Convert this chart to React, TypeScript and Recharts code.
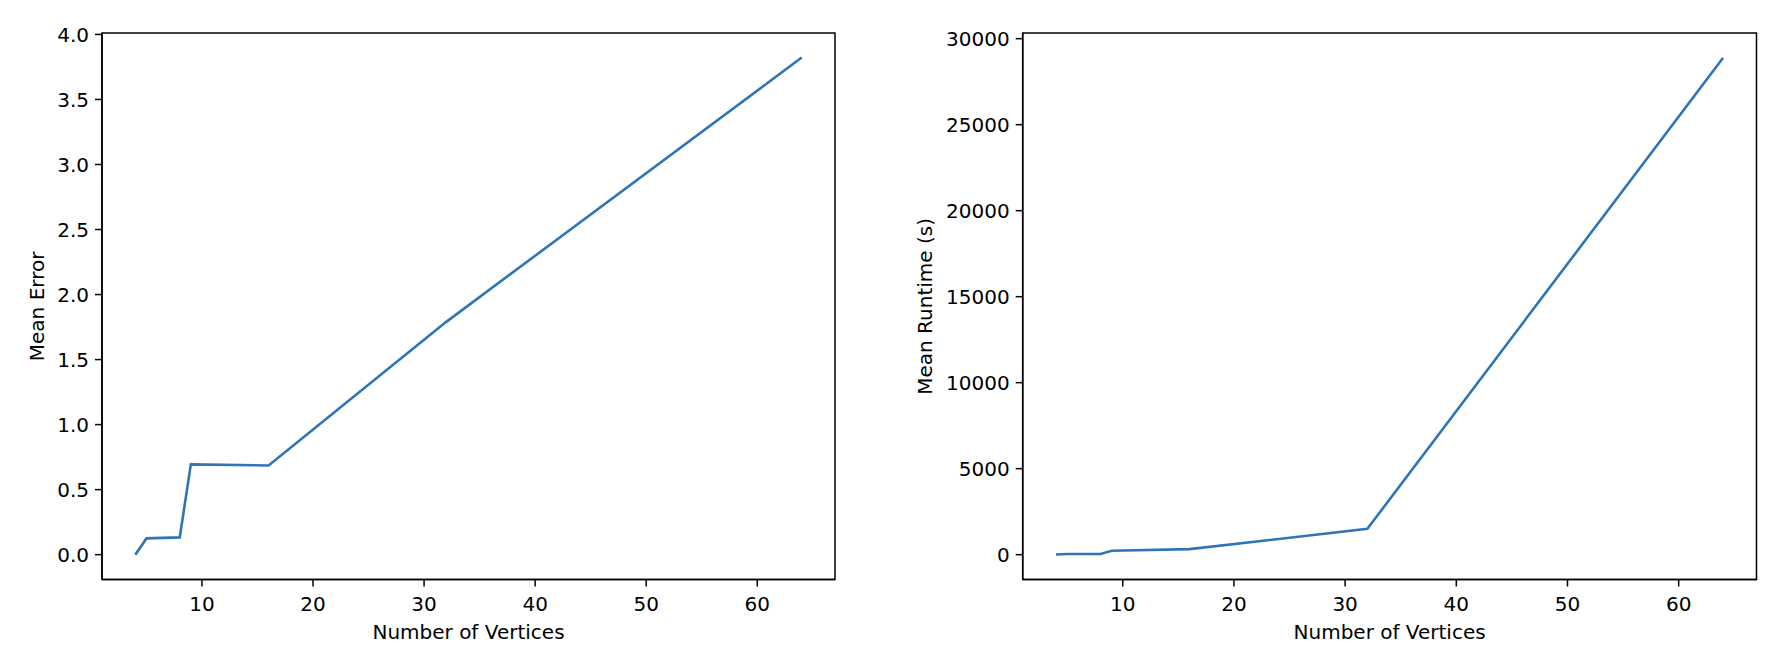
import React from "react";
import { LineChart, Line, XAxis, YAxis, ReferenceArea } from "recharts";

const vertices = [4, 5, 8, 9, 16, 32, 64];
const meanError = [0, 0.125, 0.133, 0.694, 0.686, 1.79, 3.822];
const meanRuntime = [8, 35, 40, 225, 320, 1500, 28890];
const vertexTicks = [10, 20, 30, 40, 50, 60];
const errorTicks = [0, 0.5, 1, 1.5, 2, 2.5, 3, 3.5, 4];
const runtimeTicks = [0, 5000, 10000, 15000, 20000, 25000, 30000];

const FONT = "DejaVu Sans";
const LINE = "#2f75b5";
const tickStyle = { fill: "#000", fontSize: 20, fontFamily: FONT };
const axisStroke = { stroke: "#000", strokeWidth: 1.5 };

const errorData = vertices.map((v, i) => ({ v, y: meanError[i] }));
const runtimeData = vertices.map((v, i) => ({ v, y: meanRuntime[i] }));

const xDomain: [number, number] = [1, 67];
const errorDomain: [number, number] = [-0.191, 4.011];
const runtimeDomain: [number, number] = [-1444, 30330];

type PanelProps = {
  data: { v: number; y: number }[];
  yDomain: [number, number];
  yTicks: number[];
  fmt: (v: number) => string;
  width: number;
  yWidth: number;
  margin: { top: number; right: number; bottom: number; left: number };
};

function Panel({ data, yDomain, yTicks, fmt, width, yWidth, margin }: PanelProps) {
  return (
    <LineChart width={width} height={656} data={data} margin={margin}>
      <XAxis
        dataKey="v"
        type="number"
        domain={xDomain}
        ticks={vertexTicks}
        interval={0}
        height={40}
        tick={tickStyle}
        tickSize={7}
        tickMargin={10}
        tickLine={axisStroke}
        axisLine={axisStroke}
      />
      <YAxis
        type="number"
        domain={yDomain}
        ticks={yTicks}
        interval={0}
        width={yWidth}
        tick={tickStyle}
        tickSize={7}
        tickMargin={6}
        tickFormatter={fmt}
        tickLine={axisStroke}
        axisLine={axisStroke}
      />
      <ReferenceArea
        x1={xDomain[0]}
        x2={xDomain[1]}
        y1={yDomain[0]}
        y2={yDomain[1]}
        fill="none"
        stroke="#000"
        strokeWidth={1.5}
        ifOverflow="visible"
      />
      <Line
        type="linear"
        dataKey="y"
        stroke={LINE}
        strokeWidth={2.6}
        dot={false}
        isAnimationActive={false}
      />
    </LineChart>
  );
}

export default function App() {
  return (
    <div style={{ position: "fixed", left: 0, top: 0, width: 1790, height: 656, background: "#fff" }}>
      <div style={{ position: "absolute", left: 0, top: 0 }}>
        <Panel
          data={errorData}
          yDomain={errorDomain}
          yTicks={errorTicks}
          fmt={(v) => v.toFixed(1)}
          width={880}
          yWidth={60}
          margin={{ top: 33, right: 45, bottom: 36.5, left: 42 }}
        />
      </div>
      <div style={{ position: "absolute", left: 890, top: 0 }}>
        <Panel
          data={runtimeData}
          yDomain={runtimeDomain}
          yTicks={runtimeTicks}
          fmt={(v) => String(v)}
          width={900}
          yWidth={80}
          margin={{ top: 33, right: 33.5, bottom: 36.5, left: 52.7 }}
        />
      </div>
      <svg
        width={1790}
        height={656}
        style={{ position: "absolute", left: 0, top: 0, pointerEvents: "none" }}
        fontFamily={FONT}
        fontSize={20}
      >
        <text x={468.5} y={639} textAnchor="middle" fill="#000">Number of Vertices</text>
        <text x={1389.6} y={639} textAnchor="middle" fill="#000">Number of Vertices</text>
        <text transform="translate(43.5,306.4) rotate(-90)" textAnchor="middle" fill="#000">Mean Error</text>
        <text transform="translate(931.5,306.4) rotate(-90)" textAnchor="middle" fill="#000">Mean Runtime (s)</text>
      </svg>
    </div>
  );
}
